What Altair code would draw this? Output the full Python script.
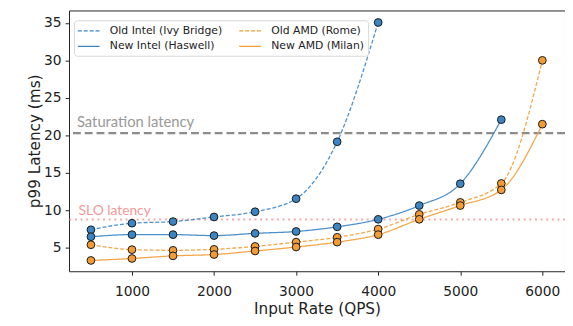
import altair as alt
import pandas as pd

qps_all = [500, 1000, 1500, 2000, 2500, 3000, 3500, 4000, 4500, 5000, 5500, 6000]

old_intel = [7.43, 8.3, 8.52, 9.13, 9.83, 11.57, 19.15, 35.05]
new_intel = [6.5, 6.78, 6.78, 6.65, 6.95, 7.2, 7.82, 8.82, 10.65, 13.56, 22.1]
old_amd = [5.43, 4.78, 4.69, 4.82, 5.21, 5.78, 6.43, 7.52, 9.48, 11.08, 13.6, 30.0]
new_amd = [3.34, 3.6, 3.95, 4.13, 4.6, 5.13, 5.78, 6.78, 8.82, 10.65, 12.74, 21.5]

series_names = ["Old Intel (Ivy Bridge)", "New Intel (Haswell)", "Old AMD (Rome)", "New AMD (Milan)"]
BLUE = "#3b85c3"
ORANGE = "#f39c36"
series_colors = [BLUE, BLUE, ORANGE, ORANGE]
series_dash = [[4, 2], [1, 0], [4, 2], [1, 0]]

saturation_latency = 20.3
slo_latency = 8.8

rows = []
for name, vals in [("Old Intel (Ivy Bridge)", old_intel), ("New Intel (Haswell)", new_intel),
                   ("Old AMD (Rome)", old_amd), ("New AMD (Milan)", new_amd)]:
    col = series_colors[series_names.index(name)]
    for q, v in zip(qps_all, vals):
        rows.append({"qps": q, "lat": v, "series": name, "pcolor": col})
df = pd.DataFrame(rows)

xscale = alt.Scale(domain=[233, 6276], nice=False, zero=False)
yscale = alt.Scale(domain=[1.9, 36.65], nice=False, zero=False)

xaxis = alt.Axis(values=[1000, 2000, 3000, 4000, 5000, 6000], title="Input Rate (QPS)", format="d",
                 labelPadding=10, titlePadding=3)
yaxis = alt.Axis(values=[5, 10, 15, 20, 25, 30, 35], title="p99 Latency (ms)", titlePadding=1)

def make_legend():
    return alt.Legend(title=None, orient="none", legendX=5, legendY=10,
                      columns=2, symbolType="M-2,0H2", symbolSize=121,
                      symbolOffset=4.5,
                      symbolStrokeWidth=1.5, symbolOpacity=0.5,
                      labelFontSize=11, labelFont="DejaVu Sans",
                      labelColor="#222", padding=4, rowPadding=4,
                      columnPadding=14, labelOffset=15,
                      fillColor="white", strokeColor="#d6d6d6",
                      cornerRadius=3)

base = alt.Chart(df)

lines = base.mark_line(interpolate="monotone", strokeWidth=1.3, opacity=0.9).encode(
    x=alt.X("qps:Q", scale=xscale, axis=xaxis),
    y=alt.Y("lat:Q", scale=yscale, axis=yaxis),
    color=alt.Color("series:N", scale=alt.Scale(domain=series_names, range=series_colors),
                    legend=make_legend()),
    strokeDash=alt.StrokeDash("series:N", scale=alt.Scale(domain=series_names, range=series_dash),
                              legend=make_legend()),
    detail="series:N",
)

points = base.mark_circle(size=62, opacity=1, stroke="#1a1a1a", strokeWidth=1).encode(
    x=alt.X("qps:Q", scale=xscale),
    y=alt.Y("lat:Q", scale=yscale),
    color=alt.Color("pcolor:N", scale=None),
)

hdf = pd.DataFrame({"lat": [saturation_latency]})
sdf = pd.DataFrame({"lat": [slo_latency]})

sat_rule = alt.Chart(hdf).mark_rule(color="#8c8c8c", strokeWidth=2.3, strokeDash=[8, 4]).encode(
    y=alt.Y("lat:Q", scale=yscale))
slo_rule = alt.Chart(sdf).mark_rule(color="#f29a9a", strokeWidth=2.2, strokeDash=[2, 3.7], opacity=0.85).encode(
    y=alt.Y("lat:Q", scale=yscale))

label_df = pd.DataFrame({
    "qps": [330, 350],
    "lat": [21.1, 9.45],
    "text": ["Saturation latency", "SLO latency"],
    "tcolor": ["#999999", "#f29a9a"],
    "fsize": [15, 14],
})
labels = alt.Chart(label_df).mark_text(align="left", baseline="alphabetic", font="Lato").encode(
    x=alt.X("qps:Q", scale=xscale),
    y=alt.Y("lat:Q", scale=yscale),
    text="text:N",
    color=alt.Color("tcolor:N", scale=None),
    size=alt.Size("fsize:Q", scale=None),
)

chart = alt.layer(sat_rule, slo_rule, lines, points, labels).properties(
    width=504, height=265,
    autosize=alt.AutoSizeParams(type="none"),
    padding={"left": 62, "top": 0, "right": 0, "bottom": 45},
).configure_view(
    stroke="#222", strokeWidth=1
).configure_axis(
    grid=False, domain=False, ticks=True, tickColor="#222", tickSize=4,
    labelFont="DejaVu Sans", labelFontSize=14, labelColor="#222",
    titleFont="DejaVu Sans", titleFontSize=15.5, titleColor="#222", titleFontWeight="normal",
    labelPadding=4,
)

chart.save("out.html", embed_options={"renderer": "svg", "actions": False})
